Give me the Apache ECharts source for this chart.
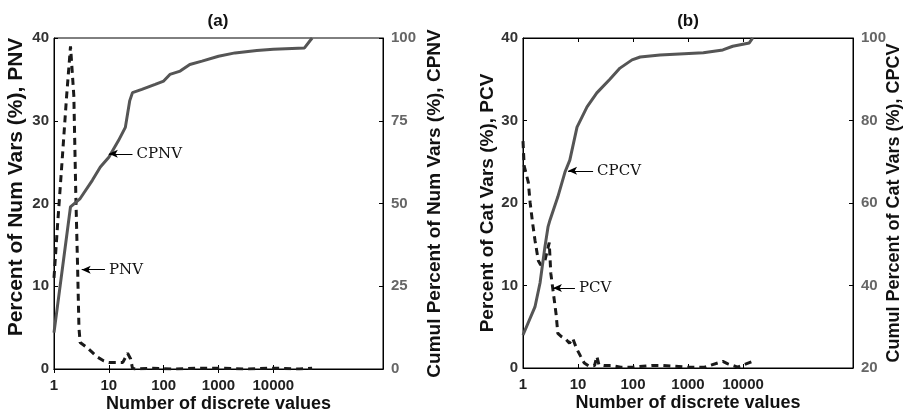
<!DOCTYPE html>
<html><head><meta charset="utf-8">
<script src="https://cdn.jsdelivr.net/npm/echarts@6/dist/echarts.min.js"></script>
<style>html,body{margin:0;padding:0;background:#fff}#c{width:903px;height:414px}</style>
</head><body><div id="c"></div>
<script>
// ---- data ----
const xTickValues = [1, 10, 100, 1000, 10000];

// Panel (a): numeric variables
const pnvX = [1, 1.15, 1.4, 1.7, 2, 2.3, 2.5, 2.7, 2.85, 3, 4, 5, 6, 8, 10, 14, 18, 22, 25, 27, 30, 60, 150, 400, 1000, 3000, 10000, 30000, 51000];
const pnvY = [11, 17, 25, 33, 39, 33, 21, 12, 5, 3.2, 2.6, 2, 1.5, 1.0, 0.8, 0.8, 0.8, 1.9, 1.2, 0.1, 0, 0.1, 0, 0.1, 0.1, 0, 0.1, 0, 0.1];
const cpnvX = [1, 2, 3, 5, 7, 10, 15, 20, 24, 27, 40, 70, 100, 130, 200, 300, 500, 1000, 2000, 5000, 10000, 37000, 51000];
const cpnvY = [11, 49, 51.5, 57, 61, 64, 69, 73, 81, 83.5, 84.5, 86, 87, 89, 90, 92, 93, 94.5, 95.5, 96.2, 96.6, 97, 100];

// Panel (b): categorical variables
const pcvX = [1, 1.05, 1.25, 1.35, 1.5, 1.65, 1.9, 2.1, 2.5, 3, 3.2, 3.5, 4, 4.3, 5, 6, 7, 8, 9.5, 11, 13, 16, 20, 22, 24, 30, 40, 60, 100, 220, 350, 1000, 2000, 4300, 5300, 8000, 15000];
const pcvY = [27.5, 24.5, 22.5, 20, 17.5, 15.5, 13, 12.5, 13, 15.2, 11.5, 9.5, 6.5, 4.2, 3.8, 3.5, 3, 3.6, 2.3, 1.5, 0.6, 0.2, 0.3, 1.4, 0.4, 0.3, 0.3, 0.1, 0.1, 0.3, 0.3, 0.1, 0.1, 0.8, 0.5, 0.1, 0.8];
const cpcvX = [1, 1.65, 2.04, 2.5, 2.85, 3.1, 4.3, 5.8, 7.1, 9.6, 14.6, 22, 38, 58, 96, 135, 310, 1900, 4300, 6500, 13000, 15000];
const cpcvY = [28, 34.8, 40.6, 49.3, 54.2, 55.9, 61.5, 67.5, 70.4, 78.4, 83.3, 86.7, 90, 92.7, 94.7, 95.4, 95.9, 96.4, 97.1, 98, 98.8, 100];

// annotations [tipX, y, tailX]
const annCPNV = [10, 65, 27];
const annPNV = [3.2, 12, 8.5];
const annCPCV = [6.6, 67.8, 18.8];
const annPCV = [3.5, 9.7, 8.8];

const zip = (xs, ys) => xs.map((x, i) => [x, ys[i]]);

const SANS = 'Liberation Sans, Arial, sans-serif';
const tickLabel = {fontFamily: SANS, fontWeight: 'bold', fontSize: 15, color: '#222'};
const nameStyle = {fontFamily: SANS, fontWeight: 'bold', fontSize: 18, color: '#111'};

function xAxes(gi) {
  return [{
    type: 'log', logBase: 10, min: 1, max: 1e6, gridIndex: gi, position: 'bottom',
    axisLine: {lineStyle: {color: '#000', width: 1}},
    axisTick: {inside: true, length: 4, customValues: xTickValues, lineStyle: {color: '#000'}},
    axisLabel: Object.assign({customValues: xTickValues, margin: 9, formatter: v => String(Math.round(v))}, tickLabel),
    splitLine: {show: false}, minorTick: {show: false},
    name: 'Number of discrete values', nameLocation: 'middle', nameGap: 26, nameMoveOverlap: false,
    nameTextStyle: nameStyle
  }, {
    type: 'log', logBase: 10, min: 1, max: 1e6, gridIndex: gi, position: 'top',
    axisLine: {lineStyle: {color: '#000', width: 1}},
    axisTick: {inside: true, length: 4, customValues: xTickValues, lineStyle: {color: '#000'}},
    axisLabel: {show: false}, splitLine: {show: false}
  }];
}

function annLine(a, text) {
  return {
    silent: true, animation: false,
    symbol: ['arrow', 'none'], symbolSize: [6, 9],
    lineStyle: {color: '#000', width: 1, type: 'solid'},
    label: {show: true, position: 'end', formatter: text, distance: 4,
      fontFamily: 'DejaVu Serif, serif', fontSize: 15, color: '#111'},
    emphasis: {disabled: true},
    data: [[{coord: [a[0], a[1]]}, {coord: [a[2], a[1]]}]]
  };
}

const option = {
  animation: false,
  backgroundColor: '#fff',
  grid: [
    {left: 54, top: 38, width: 329, height: 331, show: true, borderColor: '#000', borderWidth: 1, containLabel: false, outerBoundsMode: 'none'},
    {left: 523, top: 38, width: 330, height: 330, show: true, borderColor: '#000', borderWidth: 1, containLabel: false, outerBoundsMode: 'none'}
  ],
  xAxis: [...xAxes(0), ...xAxes(1)],
  yAxis: [
    {type: 'value', gridIndex: 0, position: 'left', min: 0, max: 40, interval: 10,
      axisLine: {show: true, lineStyle: {color: '#000'}}, axisTick: {show: true, inside: true, length: 4},
      axisLabel: Object.assign({margin: 5}, tickLabel, {color: '#333'}), splitLine: {show: false}},
    {type: 'value', gridIndex: 0, position: 'right', min: 0, max: 100, interval: 25,
      axisLine: {show: true, lineStyle: {color: '#000'}}, axisTick: {show: true, inside: true, length: 4},
      axisLabel: Object.assign({margin: 8}, tickLabel, {color: '#666'}), splitLine: {show: false},
      name: 'Cumul Percent of Num Vars (%), CPNV', nameLocation: 'middle', nameGap: 42, nameMoveOverlap: false,
      nameTextStyle: Object.assign({}, nameStyle, {fontSize: 19})},
    {type: 'value', gridIndex: 1, position: 'left', min: 0, max: 40, interval: 10,
      axisLine: {show: true, lineStyle: {color: '#000'}}, axisTick: {show: true, inside: true, length: 4},
      axisLabel: Object.assign({margin: 5}, tickLabel, {color: '#333'}), splitLine: {show: false},
      name: 'Percent of Cat Vars (%), PCV', nameLocation: 'middle', nameGap: 26, nameMoveOverlap: false,
      nameTextStyle: Object.assign({}, nameStyle, {fontSize: 19})},
    {type: 'value', gridIndex: 1, position: 'right', min: 20, max: 100, interval: 20,
      axisLine: {show: true, lineStyle: {color: '#000'}}, axisTick: {show: true, inside: true, length: 4},
      axisLabel: Object.assign({margin: 8}, tickLabel, {color: '#666'}), splitLine: {show: false},
      name: 'Cumul Percent of Cat Vars (%), CPCV', nameLocation: 'middle', nameGap: 32, nameMoveOverlap: false,
      nameTextStyle: nameStyle}
  ],
  graphic: [
    {type: 'text', x: 218, y: 21, style: {text: '(a)', font: 'bold 17px ' + SANS, fill: '#111', align: 'center', verticalAlign: 'middle'}},
    {type: 'text', x: 688, y: 21, style: {text: '(b)', font: 'bold 17px ' + SANS, fill: '#111', align: 'center', verticalAlign: 'middle'}},
    {type: 'text', x: 16, y: 187, rotation: Math.PI / 2, style: {text: 'Percent of Num Vars (%), PNV', font: 'bold 21px ' + SANS, fill: '#111', align: 'center', verticalAlign: 'middle'}}
  ],
  series: [
    {name: 'PNV', type: 'line', xAxisIndex: 0, yAxisIndex: 0, data: zip(pnvX, pnvY), showSymbol: false,
      lineStyle: {color: '#1a1a1a', width: 3, type: [7, 5]}, markLine: annLine(annPNV, 'PNV')},
    {name: 'CPNV', type: 'line', xAxisIndex: 0, yAxisIndex: 1, data: zip(cpnvX, cpnvY), showSymbol: false,
      lineStyle: {color: '#555', width: 3}, markLine: annLine(annCPNV, 'CPNV')},
    {name: 'PCV', type: 'line', xAxisIndex: 2, yAxisIndex: 2, data: zip(pcvX, pcvY), showSymbol: false,
      lineStyle: {color: '#1a1a1a', width: 3, type: [7, 5]}, markLine: annLine(annPCV, 'PCV')},
    {name: 'CPCV', type: 'line', xAxisIndex: 2, yAxisIndex: 3, data: zip(cpcvX, cpcvY), showSymbol: false,
      lineStyle: {color: '#555', width: 3}, markLine: annLine(annCPCV, 'CPCV')}
  ]
};

const chart = echarts.init(document.getElementById('c'), null, {renderer: 'canvas'});
chart.setOption(option);
</script>
</body></html>
